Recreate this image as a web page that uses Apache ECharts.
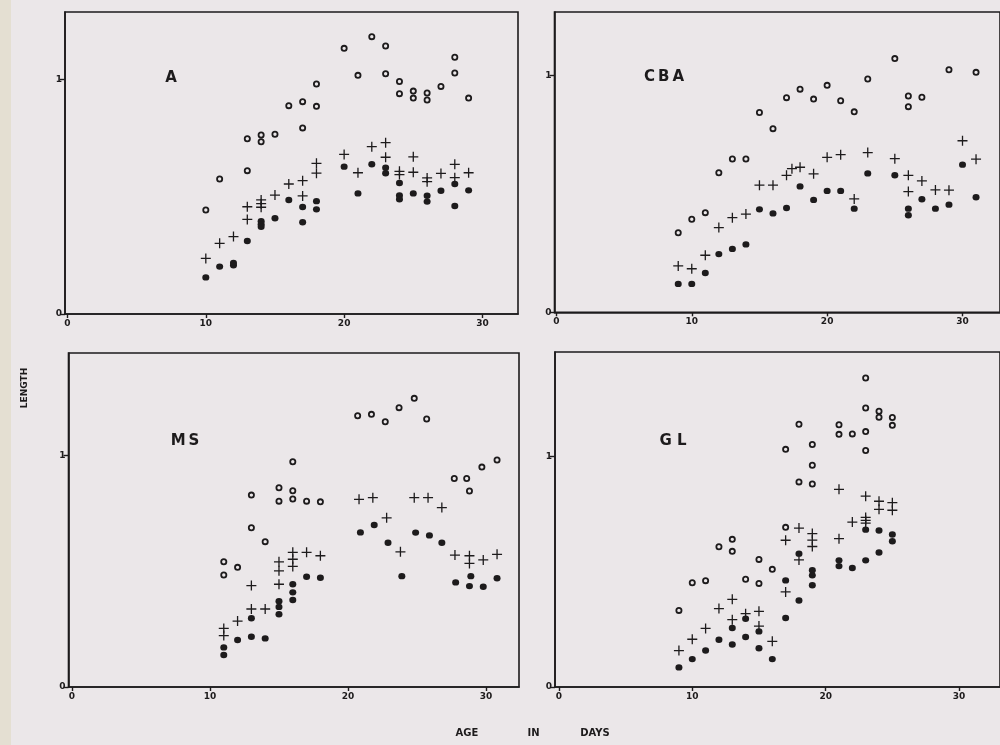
<!DOCTYPE html>
<html>
<head>
<meta charset="utf-8">
<title>Length against age in days</title>
<script src="https://cdn.jsdelivr.net/npm/echarts@6/dist/echarts.min.js"></script>
<style>
  html, body { margin: 0; padding: 0; background: #ebe7e9; }
  #chart { width: 1000px; height: 745px; }
</style>
</head>
<body>
<div id="chart"></div>
<script>
// ---- data: [age in days, length] ----
const panelNames = ['A', 'CBA', 'MS', 'GL'];
const xTicks = [0, 10, 20, 30];
const yTicks = [0, 1];

// panel A
const aOpen = [[10,0.443],[11,0.575],[13,0.747],[13,0.611],[14,0.763],[14,0.734],[15,0.766],[16,0.888],[17,0.905],[17,0.793],[18,0.980],[18,0.885],[20,1.132],[21,1.017],[22,1.182],[23,1.142],[23,1.024],[24,0.991],[24,0.939],[25,0.950],[25,0.920],[26,0.942],[26,0.912],[27,0.970],[28,1.094],[28,1.027],[29,0.920]];
const aPlus = [[10,0.237],[11,0.301],[12,0.330],[13,0.457],[13,0.403],[14,0.486],[14,0.470],[14,0.455],[15,0.507],[16,0.554],[17,0.568],[17,0.503],[18,0.642],[18,0.600],[20,0.680],[21,0.602],[22,0.713],[23,0.730],[23,0.668],[24,0.608],[24,0.594],[25,0.670],[25,0.604],[26,0.580],[26,0.564],[27,0.599],[28,0.638],[28,0.581],[29,0.602]];
const aDot = [[10,0.156],[11,0.202],[12,0.208],[12,0.218],[13,0.311],[14,0.395],[14,0.383],[14,0.372],[15,0.408],[16,0.486],[17,0.456],[17,0.391],[18,0.481],[18,0.446],[20,0.628],[21,0.514],[22,0.638],[23,0.623],[23,0.600],[24,0.558],[24,0.505],[24,0.489],[25,0.514],[26,0.504],[26,0.479],[27,0.525],[28,0.554],[28,0.460],[29,0.527]];

// panel CBA
const cbaOpen = [[9,0.336],[10,0.393],[11,0.421],[12,0.590],[13,0.648],[14,0.648],[15,0.844],[16,0.776],[17,0.907],[18,0.943],[19,0.901],[20,0.959],[21,0.894],[22,0.847],[23,0.986],[25,1.072],[26,0.914],[26,0.869],[27,0.909],[29,1.025],[31,1.014]];
const cbaPlus = [[9,0.196],[10,0.184],[11,0.241],[12,0.358],[13,0.400],[14,0.415],[15,0.537],[16,0.537],[17,0.579],[17.4,0.607],[18,0.613],[19,0.585],[20,0.655],[21,0.666],[22,0.479],[23,0.675],[25,0.649],[26,0.579],[26,0.510],[27,0.555],[28,0.517],[29,0.516],[30,0.725],[31,0.647]];
const cbaDot = [[9,0.120],[10,0.120],[11,0.166],[12,0.246],[13,0.268],[14,0.287],[15,0.435],[16,0.418],[17,0.441],[18,0.532],[19,0.475],[20,0.513],[21,0.513],[22,0.438],[23,0.587],[25,0.579],[26,0.438],[26,0.410],[27,0.478],[28,0.438],[29,0.455],[30,0.624],[31,0.486]];

// panel MS
const msOpen = [[11,0.541],[11,0.484],[12,0.517],[13,0.829],[13,0.688],[14,0.628],[15,0.861],[15,0.803],[16,0.973],[16,0.848],[16,0.812],[17,0.803],[18,0.800],[20.7,1.172],[21.7,1.178],[22.7,1.146],[23.7,1.207],[24.8,1.247],[25.7,1.158],[27.7,0.901],[28.6,0.901],[28.8,0.847],[29.7,0.950],[30.8,0.981]];
const msPlus = [[11,0.253],[11,0.222],[12,0.285],[13,0.438],[13,0.337],[14,0.337],[15,0.541],[15,0.502],[15,0.444],[16,0.582],[16,0.552],[16,0.521],[17,0.582],[18,0.567],[20.8,0.811],[21.8,0.818],[22.8,0.731],[23.8,0.584],[24.8,0.818],[25.8,0.818],[26.8,0.775],[27.75,0.570],[28.8,0.567],[28.8,0.534],[29.8,0.549],[30.8,0.573]];
const msDot = [[11,0.171],[11,0.138],[12,0.203],[13,0.297],[13,0.217],[14,0.210],[15,0.371],[15,0.346],[15,0.314],[16,0.444],[16,0.409],[16,0.376],[17,0.476],[18,0.472],[20.9,0.668],[21.9,0.700],[22.9,0.623],[23.9,0.479],[24.9,0.667],[25.9,0.655],[26.8,0.623],[27.8,0.452],[28.8,0.436],[28.9,0.479],[29.8,0.433],[30.8,0.470]];

// panel GL
const glOpen = [[9,0.332],[10,0.452],[11,0.461],[12,0.608],[13,0.640],[13,0.588],[14,0.467],[15,0.553],[15,0.449],[16,0.510],[17,1.030],[17,0.692],[18,1.139],[18,0.889],[19,1.051],[19,0.961],[19,0.880],[21,1.137],[21,1.095],[22,1.097],[23,1.339],[23,1.209],[23,1.107],[23,1.025],[24,1.195],[24,1.169],[25,1.168],[25,1.134]];
const glPlus = [[9,0.158],[10,0.207],[11,0.254],[12,0.340],[13,0.380],[13,0.292],[14,0.318],[15,0.328],[15,0.264],[16,0.198],[17,0.636],[17,0.412],[18,0.689],[18,0.551],[19,0.665],[19,0.637],[19,0.609],[21,0.857],[21,0.643],[22,0.715],[23,0.827],[23,0.735],[23,0.722],[23,0.710],[24,0.805],[24,0.770],[25,0.799],[25,0.766]];
const glDot = [[9,0.085],[10,0.121],[11,0.158],[12,0.205],[13,0.256],[13,0.184],[14,0.296],[14,0.217],[15,0.241],[15,0.168],[16,0.121],[17,0.462],[17,0.299],[18,0.578],[18,0.375],[19,0.506],[19,0.484],[19,0.441],[21,0.549],[21,0.524],[22,0.516],[23,0.549],[23,0.682],[24,0.678],[24,0.583],[25,0.661],[25,0.632]];

const panelData = [
  [aOpen, aPlus, aDot],
  [cbaOpen, cbaPlus, cbaDot],
  [msOpen, msPlus, msDot],
  [glOpen, glPlus, glDot]
];

// ---- layout ----
const INK = '#1d1b1c';
const BG = '#ebe7e9';
const FONT = '"DejaVu Sans", sans-serif';

// frame rectangles (px) and axis extents for each panel
const frames = [
  { left: 65,    top: 12,  width: 453,   height: 302,   xMin: -0.18, xMax: 32.57, yMax: 1.287 },
  { left: 554.5, top: 12,  width: 457.5, height: 300.3, xMin: -0.14, xMax: 32.77, yMax: 1.269 },
  { left: 68.5,  top: 353, width: 450.5, height: 334,   xMin: -0.25, xMax: 32.39, yMax: 1.443 },
  { left: 555,   top: 352, width: 457,   height: 335,   xMin: -0.29, xMax: 33.07, yMax: 1.452 }
];

// panel name label positions (centre, px)
const nameSpots = [
  { x: 171, y: 78,  text: 'A' },
  { x: 664, y: 77,  text: 'C\u2009B\u2009A' },
  { x: 185, y: 441, text: 'M\u2009S' },
  { x: 673, y: 441, text: 'G L' }
];

const PLUS = 'path://M4.35,0H5.65V4.35H10V5.65H5.65V10H4.35V5.65H0V4.35H4.35Z';

const grids = [], xAxes = [], yAxes = [], series = [];
frames.forEach((f, i) => {
  grids.push({
    left: f.left, top: f.top, width: f.width, height: f.height,
    show: true, borderColor: INK, borderWidth: 1.6, backgroundColor: 'transparent'
  });
  xAxes.push({
    type: 'value', gridIndex: i, min: f.xMin, max: f.xMax,
    axisLine: { show: true, onZero: false, lineStyle: { color: INK, width: 1.6 } },
    axisTick: { show: true, length: 4, customValues: xTicks, lineStyle: { color: INK, width: 1.4 } },
    axisLabel: { show: true, customValues: xTicks, margin: 5, color: INK,
                 fontFamily: FONT, fontWeight: 'bold', fontSize: 9 },
    splitLine: { show: false }
  });
  yAxes.push({
    type: 'value', gridIndex: i, min: 0, max: f.yMax,
    axisLine: { show: true, onZero: false, lineStyle: { color: INK, width: 1.6 } },
    axisTick: { show: true, length: 5, customValues: yTicks, lineStyle: { color: INK, width: 1.4 } },
    axisLabel: { show: true, customValues: yTicks, margin: 3, color: INK,
                 fontFamily: FONT, fontWeight: 'bold', fontSize: 9 },
    splitLine: { show: false }
  });
  const [open, plus, dot] = panelData[i];
  series.push({
    type: 'scatter', xAxisIndex: i, yAxisIndex: i, data: open,
    symbol: 'circle', symbolSize: 5.2, silent: true, clip: false,
    itemStyle: { color: 'rgba(0,0,0,0)', borderColor: INK, borderWidth: 1.8, opacity: 1 }
  });
  series.push({
    type: 'scatter', xAxisIndex: i, yAxisIndex: i, data: plus,
    symbol: PLUS, symbolSize: 10, silent: true, clip: false,
    itemStyle: { color: INK, opacity: 1 }
  });
  series.push({
    type: 'scatter', xAxisIndex: i, yAxisIndex: i, data: dot,
    symbol: 'circle', symbolSize: [7, 6.4], silent: true, clip: false,
    itemStyle: { color: INK, opacity: 1 }
  });
});

const graphics = [
  // worn left margin of the sheet
  { type: 'rect', left: 0, top: 0, z: -10, shape: { width: 11, height: 745 },
    style: { fill: '#e4dfd2' } }
];
nameSpots.forEach(s => {
  graphics.push({
    type: 'text', x: s.x, y: s.y, z: 10,
    style: { text: s.text, fill: INK, font: 'bold 15px ' + FONT, align: 'center', verticalAlign: 'middle' }
  });
});
// axis titles
graphics.push({
  type: 'text', x: 24.5, y: 388, rotation: Math.PI / 2, z: 10,
  style: { text: 'LENGTH', fill: INK, font: 'bold 9px ' + FONT, align: 'center', verticalAlign: 'middle' }
});
[['AGE', 467], ['IN', 533.5], ['DAYS', 595]].forEach(([t, x]) => {
  graphics.push({
    type: 'text', x: x, y: 733.5, z: 10,
    style: { text: t, fill: INK, font: 'bold 10px ' + FONT, align: 'center', verticalAlign: 'middle' }
  });
});

const chart = echarts.init(document.getElementById('chart'), null, { renderer: 'canvas' });
chart.setOption({
  backgroundColor: BG,
  animation: false,
  grid: grids,
  xAxis: xAxes,
  yAxis: yAxes,
  series: series,
  graphic: graphics
});
</script>
</body>
</html>
